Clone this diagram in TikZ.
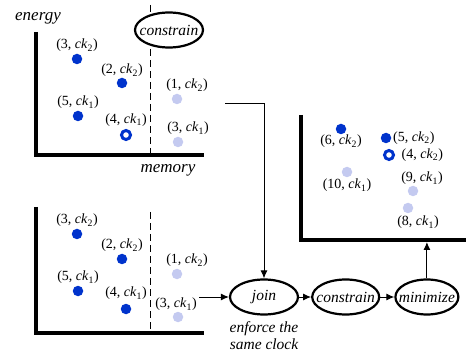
\documentclass[tikz,border=0pt]{standalone}
\usepackage{fontspec}
\setmainfont{Liberation Serif}
\usepackage{xcolor}
\usetikzlibrary{positioning,shapes.geometric,arrows.meta}

\definecolor{dotdark}{RGB}{0,51,204}
\definecolor{dotlight}{RGB}{196,202,240}

\newcommand{\ptlab}[2]{(#1, \textit{ck}\textsubscript{#2})}

\tikzset{
  axis/.style = {line width=3.5pt},
  cut/.style = {line width=1pt, dash pattern=on 7pt off 4pt},
  dk/.style = {circle, fill=dotdark, inner sep=0pt, minimum size=10.5pt},
  lt/.style = {circle, fill=dotlight, inner sep=0pt, minimum size=10.5pt},
  ring/.style = {circle, draw=dotdark, fill=white, line width=3pt, inner sep=0pt, minimum size=9pt},
  plab/.style = {font=\fontsize{14}{16}\selectfont, inner sep=0.5pt},
  optext/.style = {font=\fontsize{15.5}{17}\selectfont\itshape, inner sep=0pt},
  op/.style = {ellipse, draw, fill=white, line width=2.2pt, inner sep=0pt,
    minimum height=35pt, label={[optext]center:#1}},
  note/.style = {font=\fontsize{15.5}{17}\selectfont\itshape, align=center, inner sep=0pt},
  axlab/.style = {font=\fontsize{17}{19}\selectfont\itshape, inner sep=0pt},
  flow/.style = {-{Latex[length=8pt,width=7pt]}, line width=1pt},
}

\begin{document}
\begin{tikzpicture}[x=1pt, y=-1pt]
    \useasboundingbox (0,0) rectangle (466,358);

    % first candidate set
    \draw[cut] (150,5) -- (150,155);
    \node[op=constrain, minimum width=68pt] (cons0) at (169,30) {};
    \draw[axis] (36,32) |- (204,155);
    \node[axlab] (en) at (38,18) {energy};
    \node[axlab] (mem) at (168,170) {memory};

    \node[dk] (t32) at (77,59) {};
    \node[dk] (t22) at (122,83) {};
    \node[lt] (t12) at (177,99) {};
    \node[dk] (t51) at (78,116) {};
    \node[ring] (t41) at (126,135) {};
    \node[lt] (t31) at (178,142) {};

    \node[plab, above=1pt of t32] {\ptlab{3}{2}};
    \node[plab, above=0pt of t22] {\ptlab{2}{2}};
    \node[plab, above=1pt of t12, xshift=10pt] {\ptlab{1}{2}};
    \node[plab, above=1pt of t51] {\ptlab{5}{1}};
    \node[plab, above=2pt of t41] {\ptlab{4}{1}};
    \node[plab, above=1pt of t31, xshift=10pt] {\ptlab{3}{1}};

    % second candidate set
    \draw[cut] (150,212) -- (150,333);
    \draw[axis] (36,207) |- (204,333);

    \node[dk] (b32) at (77,234) {};
    \node[dk] (b22) at (122,259) {};
    \node[lt] (b12) at (177,274) {};
    \node[dk] (b51) at (78,291) {};
    \node[dk] (b41) at (126,309) {};
    \node[lt] (b31) at (178,317) {};

    \node[plab, above=1pt of b32] {\ptlab{3}{2}};
    \node[plab, above=1pt of b22] {\ptlab{2}{2}};
    \node[plab, above=1pt of b12, xshift=10pt] {\ptlab{1}{2}};
    \node[plab, above=1pt of b51] {\ptlab{5}{1}};
    \node[plab, above=3pt of b41] {\ptlab{4}{1}};
    \node[plab, above=0pt of b31, xshift=-2pt] {\ptlab{3}{1}};

    % combined result
    \draw[axis] (301,115) |- (466,240);

    \node[dk] (r62) at (341,129) {};
    \node[dk] (r52) at (386,138) {};
    \node[ring] (r42) at (389,155) {};
    \node[lt] (r101) at (347,172) {};
    \node[lt] (r91) at (413,191) {};
    \node[lt] (r81) at (408,208) {};

    \node[plab, below=0pt of r62] {\ptlab{6}{2}};
    \node[plab, right=1pt of r52] {\ptlab{5}{2}};
    \node[plab, right=6pt of r42] {\ptlab{4}{2}};
    \node[plab, below=1pt of r101] {\ptlab{10}{1}};
    \node[plab, above=0pt of r91, xshift=9pt] {\ptlab{9}{1}};
    \node[plab, below=2pt of r81, xshift=10pt] {\ptlab{8}{1}};

    % operators
    \node[op=join, minimum width=68pt] (join) at (264,297) {};
    \node[op=constrain, minimum width=67pt, right=12pt of join] (cons) {};
    \node[op=minimize, minimum width=63pt, right=14pt of cons] (mini) {};
    \node[note, below=6pt of join] (same) {enforce the\\same clock};

    \coordinate (src) at (225,104);
    \coordinate (inp) at (199,297);
    \coordinate (rbase) at (426,242);

    \draw[flow] (src) -| (join.north);
    \draw[flow] (inp) -- (join);
    \draw[flow] (join) -- (cons);
    \draw[flow] (cons) -- (mini);
    \draw[flow] (mini.north) -- (mini.north |- rbase);
\end{tikzpicture}
\end{document}
